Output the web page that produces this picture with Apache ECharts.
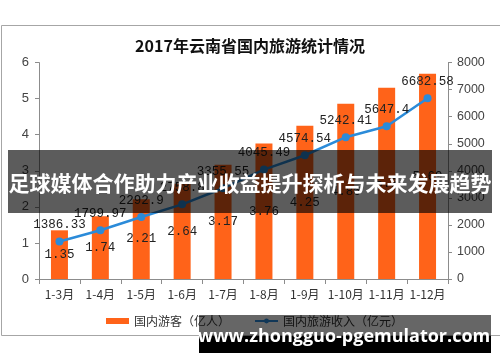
<!DOCTYPE html>
<html>
<head>
<meta charset="utf-8">
<script src="https://cdn.jsdelivr.net/npm/echarts@6/dist/echarts.min.js"></script>
<style>html,body{margin:0;padding:0;background:#fff;}#c{width:500px;height:362px;}</style>
</head>
<body>
<div id="c"></div>
<script>
var titleText = '2017年云南省国内旅游统计情况';
var categories = ['1-3月','1-4月','1-5月','1-6月','1-7月','1-8月','1-9月','1-10月','1-11月','1-12月'];
var visitors = [1.35, 1.74, 2.21, 2.64, 3.17, 3.76, 4.25, 4.86, 5.30, 5.69];
var revenue = [1386.33, 1799.97, 2292.9, 2758.8, 3355.55, 4045.49, 4574.54, 5242.41, 5647.4, 6682.58];
var seriesNames = ['国内游客（亿人）', '国内旅游收入（亿元）'];
var bannerText = '足球媒体合作助力产业收益提升探析与未来发展趋势';
var siteText = 'www.zhongguo-pgemulator.com';

var chart = echarts.init(document.getElementById('c'), null, {renderer: 'canvas'});
var labelFont = {fontFamily: 'Liberation Mono', fontSize: 12.5, color: '#222'};
var axisLabelStyle = {fontFamily: 'Liberation Sans', fontSize: 13, color: '#444'};
var axisLineStyle = {lineStyle: {color: '#8c8c8c', width: 1}};
chart.setOption({
  animation: false,
  title: {text: titleText, left: 'center', top: 33,
    textStyle: {fontFamily: 'Noto Sans CJK SC', fontWeight: 'bold', fontSize: 16, color: '#111'}},
  grid: {left: 39, right: 52, top: 62.6, bottom: 83},
  legend: {
    left: 101, top: 310, itemGap: 24,
    textStyle: {fontFamily: 'Noto Sans CJK SC', fontSize: 12, color: '#333'},
    data: [
      {name: seriesNames[0], icon: 'rect'},
      {name: seriesNames[1]}
    ],
    itemWidth: 23, itemHeight: 6
  },
  xAxis: {
    type: 'category', data: categories,
    axisLine: axisLineStyle,
    axisTick: {show: true, length: 5, lineStyle: {color: '#8c8c8c'}},
    axisLabel: {fontFamily: 'Noto Sans CJK SC', fontSize: 12, color: '#333', margin: 9, interval: 0}
  },
  yAxis: [
    {type: 'value', min: 0, max: 6, interval: 1, splitLine: {show: false},
      axisLine: {show: true, lineStyle: {color: '#8c8c8c'}},
      axisTick: {show: true, length: 4, lineStyle: {color: '#8c8c8c'}},
      axisLabel: Object.assign({margin: 10}, axisLabelStyle)},
    {type: 'value', min: 0, max: 8000, interval: 1000, splitLine: {show: false},
      axisLine: {show: true, lineStyle: {color: '#8c8c8c'}},
      axisTick: {show: true, length: 4, lineStyle: {color: '#8c8c8c'}},
      axisLabel: Object.assign({margin: 9, formatter: function (v) { return String(v); }}, axisLabelStyle, {fontSize: 12.5})}
  ],
  series: [
    {name: seriesNames[0], type: 'bar', data: visitors, yAxisIndex: 0, barWidth: 17,
      itemStyle: {color: '#FF6319'},
      label: Object.assign({show: true, position: 'inside'}, labelFont)},
    {name: seriesNames[1], type: 'line', data: revenue, yAxisIndex: 1,
      symbol: 'circle', symbolSize: 8,
      lineStyle: {color: '#2B8BD9', width: 2.5},
      itemStyle: {color: '#2B8BD9'},
      label: Object.assign({show: true, position: 'top', distance: 6}, labelFont)}
  ],
  graphic: [
    {type: 'rect', z: -1, silent: true, shape: {x: 1.5, y: 25.5, width: 520, height: 310},
      style: {fill: 'none', stroke: '#a6a6a6', lineWidth: 1}},
    {type: 'rect', z: 100, shape: {x: 8, y: 150, width: 484, height: 63},
      style: {fill: 'rgba(0,0,0,0.64)'}},
    {type: 'text', z: 101, x: 250, y: 183,
      style: {text: bannerText, fill: '#fff', font: 'bold 21px "Noto Sans CJK SC"', textAlign: 'center', textVerticalAlign: 'middle'}},
    {type: 'rect', z: 100, shape: {x: 199, y: 315, width: 292, height: 21},
      style: {fill: 'rgba(0,0,0,0.6)'}},
    {type: 'rect', z: 100, shape: {x: 199, y: 336, width: 292, height: 17},
      style: {fill: '#000'}},
    {type: 'text', z: 101, x: 344, y: 337,
      style: {text: siteText, fill: '#fff', font: 'bold 18px "Open Sans"', textAlign: 'center', textVerticalAlign: 'middle'}}
  ]
});
</script>
</body>
</html>
